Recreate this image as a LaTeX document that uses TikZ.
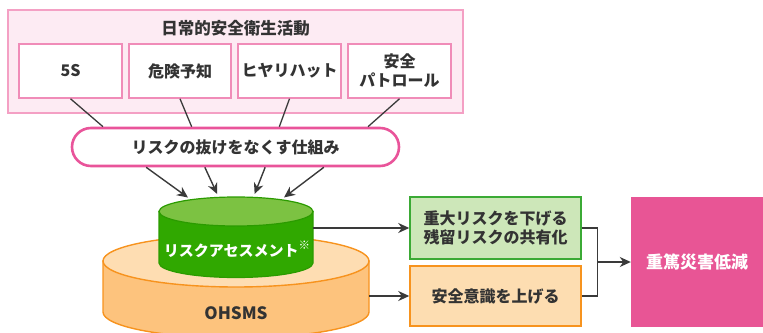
\documentclass[tikz,border=0pt]{standalone}
\usepackage{fontspec}
\setmainfont{Noto Sans CJK JP}
\usetikzlibrary{arrows.meta,calc,shapes.geometric}
\definecolor{txt}{HTML}{333333}
\definecolor{ln}{HTML}{3A3A3A}
\definecolor{outerfill}{HTML}{FDEBF3}
\definecolor{outerline}{HTML}{F4A0C4}
\definecolor{innerline}{HTML}{F08CB8}
\definecolor{rbline}{HTML}{E9549A}
\definecolor{otopc}{HTML}{FEDDB2}
\definecolor{obodyc}{HTML}{FDC37D}
\definecolor{olinec}{HTML}{F7931E}
\definecolor{gtopc}{HTML}{7CC242}
\definecolor{gbodyc}{HTML}{30A800}
\definecolor{glinec}{HTML}{2B9B00}
\definecolor{gboxfill}{HTML}{CDE7B9}
\definecolor{gboxline}{HTML}{3BAA35}
\definecolor{oboxfill}{HTML}{FDDDB1}
\definecolor{pinkc}{HTML}{E85595}
\begin{document}
\begin{tikzpicture}[x=1pt,y=-1pt,
  font=\bfseries\fontsize{16}{19}\selectfont,
  every node/.style={inner sep=0pt, text=txt, align=center},
  actbox/.style={draw=innerline, line width=1.5pt, fill=white, minimum height=54pt},
  conn/.style={draw=ln, line width=1.3pt},
  arr/.style={draw=ln, line width=1.4pt, -{Stealth[length=11pt,width=10pt,inset=3.5pt]}},
  ghost/.style={draw=none, fill=none}
]
\path[use as bounding box] (0,0) rectangle (763,332);
\clip (0,0) rectangle (763,332);

% top group
\node[draw=outerline, fill=outerfill, line width=1.5pt, minimum width=455pt, minimum height=103pt] (outer) at (235.5,61.5) {};
\node[font=\bfseries\fontsize{16.5}{19}\selectfont] (title) at (235.5,28) {日常的安全衛生活動};
\node[actbox, minimum width=103pt] (b1) at (70.5,71) {5S};
\node[actbox, minimum width=102pt] (b2) at (180,71) {危険予知};
\node[actbox, minimum width=103pt] (b3) at (289.5,71) {ヒヤリハット};
\node[actbox, minimum width=103pt] (b4) at (399.5,71) {安全\\パトロール};

% rounded box
\node[draw=rbline, line width=2.6pt, fill=white, rounded corners=19pt, minimum width=327pt, minimum height=38pt] (rb) at (235.5,147) {リスクの抜けをなくす仕組み};

\draw[conn] (b1.south) -- ($(rb.north west)!0.098!(rb.north east)$);
\draw[conn] (b2.south) -- ($(rb.north west)!0.367!(rb.north east)$);
\draw[conn] (b3.south) -- ($(rb.north west)!0.633!(rb.north east)$);
\draw[conn] (b4.south) -- ($(rb.north west)!0.902!(rb.north east)$);

% orange cylinder
\node[ghost, minimum width=266pt, minimum height=51pt] (ocyl) at (236,286.5) {};
\filldraw[fill=obodyc, draw=olinec, line width=1.4pt]
  (103,261) -- (103,312) arc[start angle=180, end angle=360, x radius=133pt, y radius=26pt] -- (369,261) -- cycle;
\node[ellipse, draw=olinec, fill=otopc, line width=1.4pt, minimum width=266pt, minimum height=52pt] (otop) at (236,261) {};

% green cylinder
\node[ghost, minimum width=154pt, minimum height=51.5pt] (gcyl) at (236,237.25) {};
\filldraw[fill=gbodyc, draw=glinec, line width=1.2pt]
  (159,211.5) -- (159,263) arc[start angle=180, end angle=360, x radius=77pt, y radius=14.5pt] -- (313,211.5) -- cycle;
\node[ellipse, draw=glinec, fill=gtopc, line width=1.2pt, minimum width=154pt, minimum height=29pt] (gtop) at (236,211.5) {};

\node[text=white, font=\bfseries\fontsize{15}{18}\selectfont] (ratext) at (237,249) {リスクアセスメント\raisebox{0.45em}{\fontsize{11.5}{12}\selectfont ※}};
\node[font=\bfseries\fontsize{17}{20}\selectfont] (ohsms) at (236,313) {OHSMS};

% arrows into green cylinder
\draw[arr, shorten >=3pt] ($(rb.south west)!0.229!(rb.south east)$) -- (gtop.165);
\draw[arr, shorten >=3pt] ($(rb.south west)!0.407!(rb.south east)$) -- (gtop.140);
\draw[arr, shorten >=3pt] ($(rb.south west)!0.590!(rb.south east)$) -- (gtop.40);
\draw[arr, shorten >=3pt] ($(rb.south west)!0.768!(rb.south east)$) -- (gtop.15);

% right boxes
\node[draw=gboxline, fill=gboxfill, line width=1.5pt, minimum width=171pt, minimum height=62pt] (gbox) at (495.5,228) {重大リスクを下げる\\残留リスクの共有化};
\node[draw=olinec, fill=oboxfill, line width=1.5pt, minimum width=171pt, minimum height=60pt] (obox) at (495.5,296) {安全意識を上げる};
\node[fill=pinkc, minimum width=132pt, minimum height=130pt, text=white, font=\bfseries\fontsize{17}{20}\selectfont] (pink) at (697,262) {重篤災害低減};

\draw[arr] (gcyl.east |- gbox.west) -- (gbox.west);
\draw[arr] (ocyl.east |- obox.west) -- (obox.west);
\draw[conn] (gbox.east) -- ++(16,0) coordinate (j) |- (obox.east);
\draw[arr] (j |- pink.west) -- (pink.west);
\end{tikzpicture}
\end{document}
